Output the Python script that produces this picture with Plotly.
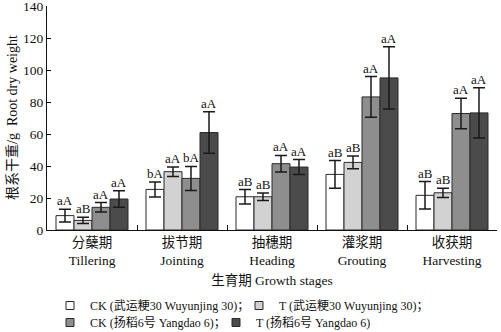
import plotly.graph_objects as go

stages_cn = ["分蘖期", "拔节期", "抽穗期", "灌浆期", "收获期"]
stages_en = ["Tillering", "Jointing", "Heading", "Grouting", "Harvesting"]

series_names = [
    "CK (武运粳30 Wuyunjing 30)；",
    "T (武运粳30 Wuyunjing 30)；",
    "CK (扬稻6号 Yangdao 6)；",
    "T (扬稻6号 Yangdao 6)",
]
ck_wyj = [9.0, 25.4, 20.8, 34.8, 21.7]
t_wyj = [6.0, 36.5, 20.8, 42.3, 23.3]
ck_yd = [14.2, 32.3, 41.5, 83.3, 72.9]
t_yd = [19.4, 61.0, 39.4, 95.2, 73.3]

ck_wyj_err = [4.0, 4.7, 4.5, 8.7, 8.6]
t_wyj_err = [2.0, 3.0, 2.4, 4.0, 2.9]
ck_yd_err = [3.0, 7.5, 5.2, 12.7, 9.5]
t_yd_err = [5.2, 13.0, 4.7, 19.5, 15.7]

ck_wyj_sig = ["aA", "bA", "aB", "aB", "aB"]
t_wyj_sig = ["aB", "aA", "aB", "aB", "aB"]
ck_yd_sig = ["aA", "bA", "aA", "aA", "aA"]
t_yd_sig = ["aA", "aA", "aA", "aA", "aA"]

y_title = "根系干重/g  Root dry weight"
x_title = "生育期 Growth stages"

colors = ["#ffffff", "#d2d2d2", "#8e8e8e", "#4b4b4b"]

values = [ck_wyj, t_wyj, ck_yd, t_yd]
errors = [ck_wyj_err, t_wyj_err, ck_yd_err, t_yd_err]
sigs = [ck_wyj_sig, t_wyj_sig, ck_yd_sig, t_yd_sig]

cats = [f"{c}<br>{e}" for c, e in zip(stages_cn, stages_en)]

FONT = "Liberation Serif, Noto Sans CJK SC, serif"

# legend placement (container px): (left, row center y)
legend_pos = [(50, 305.5), (239, 305.5), (50, 322.5), (216, 322.5)]
W, H = 501, 332
ML, MR, MT, MB = 47, 4, 6, 102

fig = go.Figure()
for k, (name, v, e, col) in enumerate(zip(series_names, values, errors, colors)):
    fig.add_trace(go.Bar(
        name=name, x=cats, y=v, showlegend=False,
        marker=dict(color=col, line=dict(color="#2a2a2a", width=1)),
        error_y=dict(type="data", array=e, color="#1a1a1a", thickness=1.5, width=6),
    ))
    lg = "legend" if k == 0 else f"legend{k+1}"
    fig.add_trace(go.Scatter(
        name=name, x=[None], y=[None], mode="markers", showlegend=True,
        legend=lg,
        marker=dict(symbol="square", size=8, color=col, line=dict(color="#2a2a2a", width=1)),
    ))

offsets = [-0.3, -0.1, 0.1, 0.3]
for off, v, e, s in zip(offsets, values, errors, sigs):
    for i in range(len(cats)):
        fig.add_annotation(
            x=i + off, y=v[i] + e[i], text=s[i], showarrow=False,
            yanchor="bottom", yshift=-1, font=dict(size=13, color="#111", family=FONT),
        )

# y-axis title as rotated text left of the axis
fig.add_annotation(
    xref="paper", yref="paper", x=(12 - ML) / (W - ML - MR), y=0.5,
    text=y_title, textangle=-90, showarrow=False,
    xanchor="center", yanchor="middle", font=dict(size=14, family=FONT, color="#111"),
)

legend_common = dict(
    xref="container", yref="container", xanchor="left", yanchor="middle",
    font=dict(size=12, family=FONT, color="#111"), itemsizing="trace",
    bgcolor="rgba(0,0,0,0)", borderwidth=0,
)
legend_layout = {}
for k, (lx, ly) in enumerate(legend_pos):
    key = "legend" if k == 0 else f"legend{k+1}"
    legend_layout[key] = dict(legend_common, x=lx / W, y=1 - ly / H)

fig.update_layout(
    width=W, height=H,
    margin=dict(l=ML, r=MR, t=MT, b=MB, autoexpand=False),
    paper_bgcolor="white", plot_bgcolor="white",
    barmode="group", bargap=0.2, bargroupgap=0,
    font=dict(family=FONT, size=13, color="#111"),
    **legend_layout,
)
fig.update_xaxes(
    showline=True, linecolor="#111", linewidth=1,
    ticks="inside", ticklen=5, tickcolor="#111", tickson="boundaries",
    title=dict(text=x_title, font=dict(size=13.5), standoff=8),
    tickfont=dict(size=13.5),
)
fig.update_yaxes(
    range=[0, 140.2], dtick=20, tick0=0, showgrid=False, zeroline=False,
    showline=True, linecolor="#111", linewidth=1,
    ticks="inside", ticklen=4, tickcolor="#111", ticklabeloverflow="allow",
    tickfont=dict(size=13.5),
)

fig.write_html("out.html", config={"displayModeBar": False},
               post_script="document.body.style.margin='0px';")
